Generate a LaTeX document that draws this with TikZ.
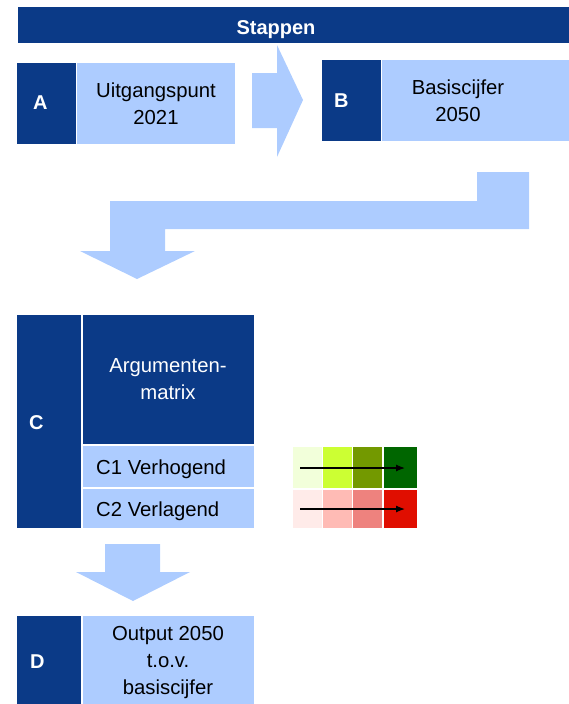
\documentclass[tikz,border=0pt]{standalone}
\usepackage{fontspec}
\setmainfont{Liberation Sans}
\usetikzlibrary{arrows.meta}
\definecolor{dblue}{HTML}{0B3A87}
\definecolor{lblue}{HTML}{ADCCFF}
\definecolor{gA}{HTML}{F2FFDA}
\definecolor{gB}{HTML}{CCFF33}
\definecolor{gC}{HTML}{739900}
\definecolor{gD}{HTML}{006600}
\definecolor{rA}{HTML}{FFEBE9}
\definecolor{rB}{HTML}{FFBBB5}
\definecolor{rC}{HTML}{EE827E}
\definecolor{rD}{HTML}{E00E00}
\begin{document}
\begin{tikzpicture}[x=1pt,y=-1pt,
  rect/.style={draw=none, anchor=north west, inner sep=0pt, outer sep=0pt},
  dbox/.style={rect, fill=dblue},
  lbox/.style={rect, fill=lblue, align=center, font=\fontsize{20}{27}\selectfont},
  letter/.style={anchor=west, inner sep=0pt, text=white, font=\bfseries\fontsize{20}{24}\selectfont},
  txt/.style={inner sep=0pt, align=center, font=\fontsize{20.3}{27}\selectfont},
  cell/.style={rect},
  blockarrow/.style={fill=lblue, draw=none},
  gridarrow/.style={-{Latex[length=9pt,width=7pt]}, line width=1.2pt, black}
]
\useasboundingbox (0,0) rectangle (569,704);

% header
\node[dbox, minimum width=551pt, minimum height=36pt] (bar) at (18,7) {};
\node[letter, anchor=base] (stappen) at (276,34) {Stappen};

% A
\node[dbox, minimum width=59pt, minimum height=81pt] (Ad) at (17,63) {};
\node[letter] (Al) at (33,103) {A};
\node[lbox, minimum width=158pt, minimum height=81pt] (Al2) at (77,63) {};
\node[txt] (At) at (156,104) {Uitgangspunt\\2021};

% right block arrow
\fill[blockarrow] (252,73) -- (277,73) -- (277,45) -- (303,100) -- (277,157) -- (277,128) -- (252,128) -- cycle;

% B
\node[dbox, minimum width=59pt, minimum height=81pt] (Bd) at (322,60) {};
\node[letter] (Bl) at (334,101) {B};
\node[lbox, minimum width=187pt, minimum height=81pt] (Bl2) at (382,60) {};
\node[txt] (Bt) at (458,101) {Basiscijfer\\2050};

% bent block arrow
\fill[blockarrow] (477,172) -- (529,172) -- (529,229) -- (165,229) -- (165,251) -- (195,251) -- (137,279) -- (80,251) -- (110,251) -- (110,201) -- (477,201) -- cycle;

% C
\node[dbox, minimum width=64pt, minimum height=213pt] (Cd) at (17,315) {};
\node[letter] (Cl) at (29,423) {C};
\node[dbox, minimum width=171pt, minimum height=129pt] (Am) at (83,315) {};
\node[txt, text=white] (Amt) at (168,379) {Argumenten-\\matrix};
\node[lbox, minimum width=171pt, minimum height=41pt] (C1) at (83,446) {};
\node[txt, anchor=base west] (C1t) at (96,474) {C1 Verhogend};
\node[lbox, minimum width=171pt, minimum height=39pt] (C2) at (83,489) {};
\node[txt, anchor=base west] (C2t) at (96,516) {C2 Verlagend};

% colour grid
\node[cell, fill=gA, minimum width=29pt, minimum height=41pt] (g1) at (293,447) {};
\node[cell, fill=gB, minimum width=29pt, minimum height=41pt] (g2) at (323,447) {};
\node[cell, fill=gC, minimum width=29pt, minimum height=41pt] (g3) at (353,447) {};
\node[cell, fill=gD, minimum width=33pt, minimum height=41pt] (g4) at (384,447) {};
\node[cell, fill=rA, minimum width=29pt, minimum height=38pt] (r1) at (293,490) {};
\node[cell, fill=rB, minimum width=29pt, minimum height=38pt] (r2) at (323,490) {};
\node[cell, fill=rC, minimum width=29pt, minimum height=38pt] (r3) at (353,490) {};
\node[cell, fill=rD, minimum width=33pt, minimum height=38pt] (r4) at (384,490) {};
\coordinate (ga1) at (300,468);
\coordinate (ga2) at (405,468);
\coordinate (ra1) at (300,509);
\coordinate (ra2) at (405,509);
\draw[gridarrow] (ga1) -- (ga2);
\draw[gridarrow] (ra1) -- (ra2);

% down block arrow
\fill[blockarrow] (105,544) -- (160,544) -- (160,572) -- (190,572) -- (133,601) -- (76,572) -- (105,572) -- cycle;

% D
\node[dbox, minimum width=64pt, minimum height=88pt] (Dd) at (17,616) {};
\node[letter] (Dl) at (30,662) {D};
\node[lbox, minimum width=171pt, minimum height=88pt] (Dl2) at (83,616) {};
\node[txt] (Dt) at (168,663) {Output 2050\\t.o.v.\\basiscijfer};
\end{tikzpicture}
\end{document}
